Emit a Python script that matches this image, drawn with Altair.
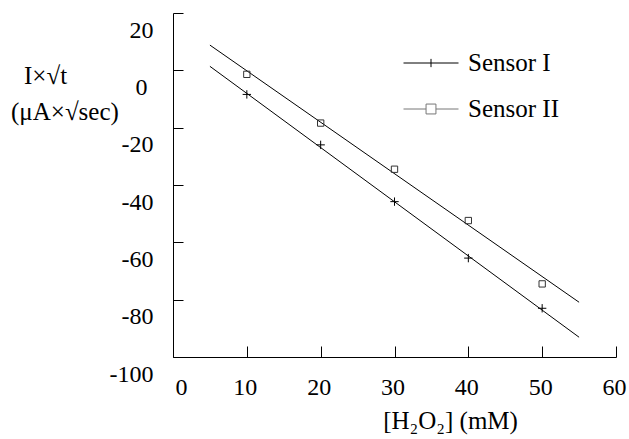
import altair as alt
import pandas as pd

# ---- data ----
conc = [10, 20, 30, 40, 50]
sensor1 = [-8.4, -26.0, -45.8, -65.5, -83.0]
sensor2 = [-1.4, -18.4, -34.5, -52.4, -74.5]
fit_x = [5, 55]
fit1 = [1.4, -93.1]
fit2 = [8.8, -80.9]
series = ["Sensor I", "Sensor II"]
x_ticks = [0, 10, 20, 30, 40, 50, 60]
y_ticks = [20, 0, -20, -40, -60, -80, -100]
ytitle = ["I×√t", "(μA×√sec)"]
xtitle = "[H₂O₂] (mM)"

W, H = 443, 344
FONT = "Liberation Serif"
FS = 24
FT = 25
MINUS = "datum.value < 0 ? '-' + abs(datum.value) : '' + datum.value"

pts = pd.DataFrame({"conc": conc * 2, "val": sensor1 + sensor2,
                    "sensor": [series[0]] * len(conc) + [series[1]] * len(conc)})
fits = pd.DataFrame({"conc": fit_x * 2, "val": fit1 + fit2,
                     "sensor": [series[0]] * 2 + [series[1]] * 2})

xs = alt.Scale(domain=[0, 60], nice=False, zero=False)
ys = alt.Scale(domain=[-100, 20], nice=False, zero=False)

lines = alt.Chart(fits).mark_line(color="black", strokeWidth=1).encode(
    x=alt.X("conc:Q", scale=xs, axis=alt.Axis(
        orient="bottom", values=x_ticks, ticks=False, grid=False,
        domainColor="black", labelFont=FONT, labelFontSize=FS, labelColor="black",
        labelPadding=18, labelFlush=False, labelOverlap=False, labelExpr=MINUS,
        labelOffset={"condition": {"test": "datum.value == 0", "value": 8}, "value": -2},
        title=xtitle, titleFont=FONT, titleFontSize=FT, titleFontWeight="normal",
        titleColor="black", titleX=277, titleY=63, titleBaseline="middle",
        titleAlign="center")),
    y=alt.Y("val:Q", scale=ys, axis=alt.Axis(
        orient="left", values=y_ticks, ticks=False, grid=False,
        domainColor="black", labelFont=FONT, labelFontSize=FS, labelColor="black",
        labelPadding={"condition": {"test": "datum.value == 0", "value": 26}, "value": 20},
        labelOffset=17, labelFlush=False, labelOverlap=False, labelExpr=MINUS,
        title=None)),
    detail="sensor:N",
)

points = alt.Chart(pts).mark_point(filled=False, strokeWidth=1, opacity=1).encode(
    x=alt.X("conc:Q", scale=xs, axis=alt.Axis(
        orient="top", offset=-H, values=x_ticks, labels=False, domain=False,
        grid=False, tickSize=11, tickColor="black", title=None)),
    y=alt.Y("val:Q", scale=ys, axis=alt.Axis(
        orient="right", offset=-W, values=y_ticks, labels=False, domain=False,
        grid=False, tickSize=10, tickColor="black", title=None)),
    shape=alt.Shape("sensor:N", scale=alt.Scale(
        domain=series, range=["M-1,0H1M0,-1V1", "M-1,-1H1V1H-1Z"]), legend=None),
    color=alt.Color("sensor:N", scale=alt.Scale(
        domain=series, range=["black", "#333333"]), legend=None),
    size=alt.Size("sensor:N", scale=alt.Scale(domain=series, range=[70, 40]), legend=None),
)

LEG = ["M-1,0H1M0,-0.15V0.15",
       "M-1,0H-0.18M0.18,0H1M-0.18,-0.18H0.18V0.18H-0.18Z"]
leg_props = dict(orient="none", legendX=230, legendY=22, title=None,
                 symbolSize=3025, symbolStrokeWidth=1, labelFont=FONT,
                 labelFontSize=FT, labelColor="black", labelOffset=9, rowPadding=5)
legend_layer = alt.Chart(pd.DataFrame({"sensor": series})).transform_filter("false").mark_point(
    filled=False, strokeWidth=1, opacity=1).encode(
    shape=alt.Shape("sensor:N", scale=alt.Scale(domain=series, range=LEG),
                    legend=alt.Legend(**leg_props)),
    color=alt.Color("sensor:N", scale=alt.Scale(domain=series, range=["black", "#777777"]),
                    legend=alt.Legend(**leg_props)),
)

t1 = alt.Chart(pd.DataFrame({"t": [ytitle[0]]})).mark_text(
    font=FONT, fontSize=FT, color="black", align="left", baseline="middle").encode(
    text="t:N", x=alt.value(-149), y=alt.value(63))
t2 = alt.Chart(pd.DataFrame({"t": [ytitle[1]]})).mark_text(
    font=FONT, fontSize=FT, color="black", align="left", baseline="middle").encode(
    text="t:N", x=alt.value(-162), y=alt.value(99))

chart = alt.layer(lines, points, legend_layer, t1, t2).resolve_scale(
    shape="independent", color="independent", size="independent"
).resolve_axis(x="independent", y="independent").properties(
    width=W, height=H,
    padding={"left": 173, "top": 13, "right": 13, "bottom": 82},
    autosize=alt.AutoSizeParams(type="none"),
    background="white",
).configure_view(stroke=None)

chart.save("out.html", embed_options={"renderer": "svg", "actions": False})
